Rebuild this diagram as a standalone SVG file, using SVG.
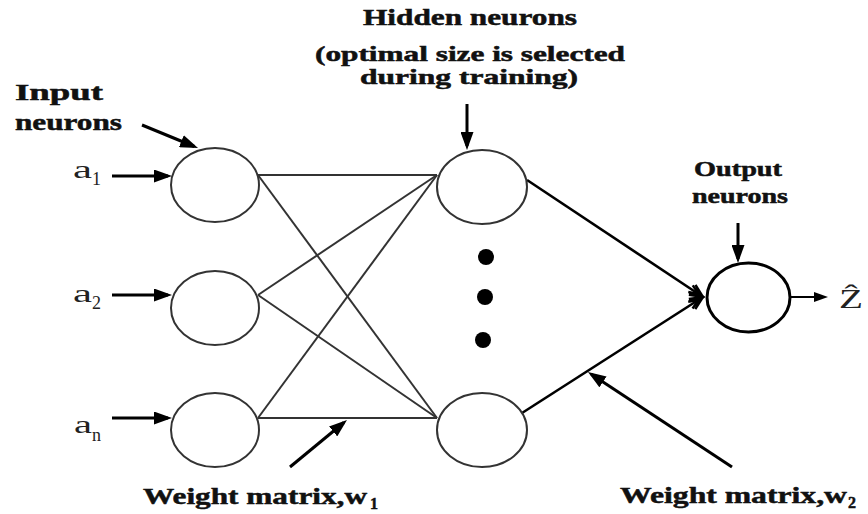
<svg xmlns="http://www.w3.org/2000/svg" width="868" height="514" viewBox="0 0 868 514">
<style>
  .lbl { font-family: "Liberation Serif", "Times New Roman", serif; font-weight: bold; fill: #111; stroke: #111; stroke-width: 0.5; }
  .var { font-family: "Liberation Serif", "Times New Roman", serif; fill: #222; }
  .neuron { fill: #fff; stroke: #333; stroke-width: 2; }
  .out { fill: #fff; stroke: #000; stroke-width: 3; }
  .w1 { stroke: #333; stroke-width: 2; fill: none; }
  .w2 { stroke: #000; stroke-width: 2.6; fill: none; marker-end: url(#open); }
  .ptr { stroke: #000; stroke-width: 3; fill: none; marker-end: url(#head); }
</style>
<defs>
  <marker id="head" viewBox="0 0 18 13" refX="14" refY="6.5" markerWidth="18" markerHeight="13" markerUnits="userSpaceOnUse" orient="auto">
    <path d="M0,0 L18,6.5 L0,13 z" fill="#000"/>
  </marker>
  <marker id="small" viewBox="0 0 14 10" refX="11" refY="5" markerWidth="14" markerHeight="10" markerUnits="userSpaceOnUse" orient="auto">
    <path d="M0,0 L14,5 L0,10 z" fill="#000"/>
  </marker>
  <marker id="open" viewBox="-2 -2 18 16" refX="14" refY="6" markerWidth="18" markerHeight="16" markerUnits="userSpaceOnUse" orient="auto">
    <path d="M1,0 L14,6 L1,12 M-1,2 L9,6 L-1,10" fill="none" stroke="#000" stroke-width="2.4"/>
  </marker>
</defs>
<rect width="868" height="514" fill="#fff"/>

<g id="connectors">
  <line class="w1" x1="258" y1="175" x2="437" y2="175"/>
  <line class="w1" x1="258" y1="175" x2="437" y2="418"/>
  <line class="w1" x1="258" y1="295" x2="437" y2="175"/>
  <line class="w1" x1="258" y1="295" x2="437" y2="418"/>
  <line class="w1" x1="258" y1="418" x2="437" y2="175"/>
  <line class="w1" x1="258" y1="418" x2="437" y2="418"/>
  <line class="w2" x1="527" y1="180" x2="703" y2="297"/>
  <line class="w2" x1="522" y1="413" x2="703" y2="297"/>
  <line class="ptr" x1="112" y1="176" x2="168" y2="176"/>
  <line class="ptr" x1="112" y1="295" x2="168" y2="295"/>
  <line class="ptr" x1="112" y1="418" x2="168" y2="418"/>
  <line class="ptr" x1="142" y1="125" x2="194.3" y2="146.5"/>
  <line class="ptr" x1="467" y1="104" x2="467" y2="146"/>
  <line class="ptr" x1="738" y1="223" x2="738" y2="259"/>
  <line class="ptr" x1="290" y1="467" x2="343.9" y2="422.5"/>
  <line class="ptr" x1="732" y1="467" x2="591.3" y2="374.2"/>
  <line x1="790" y1="297" x2="825" y2="297" stroke="#000" stroke-width="2.2" marker-end="url(#small)"/>
</g>

<g id="input1"><ellipse class="neuron" cx="215" cy="185" rx="44" ry="37"/></g>
<g id="input2"><ellipse class="neuron" cx="215" cy="308" rx="44" ry="37"/></g>
<g id="input3"><ellipse class="neuron" cx="215" cy="430" rx="44" ry="37"/></g>
<g id="hidden1"><ellipse class="neuron" cx="482" cy="187" rx="45" ry="37"/></g>
<g id="hidden-dots">
  <circle cx="486" cy="257" r="8" fill="#000"/>
  <circle cx="485" cy="297" r="8" fill="#000"/>
  <circle cx="483" cy="340" r="8" fill="#000"/>
</g>
<g id="hidden2"><ellipse class="neuron" cx="482" cy="430" rx="45" ry="37"/></g>
<g id="output"><ellipse class="out" cx="748.5" cy="297.5" rx="41.5" ry="34.5"/></g>

<g id="labels">
  <text class="lbl" x="15" y="100" font-size="24" textLength="88" lengthAdjust="spacingAndGlyphs">Input</text>
  <text class="lbl" x="15" y="130" font-size="24" textLength="107" lengthAdjust="spacingAndGlyphs">neurons</text>
  <text class="lbl" x="363" y="25" font-size="23" textLength="214" lengthAdjust="spacingAndGlyphs">Hidden neurons</text>
  <text class="lbl" x="315" y="61" font-size="21" textLength="310" lengthAdjust="spacingAndGlyphs">(optimal size is selected</text>
  <text class="lbl" x="360" y="84" font-size="21" textLength="218" lengthAdjust="spacingAndGlyphs">during training)</text>
  <text class="lbl" x="694" y="176" font-size="21" textLength="88" lengthAdjust="spacingAndGlyphs">Output</text>
  <text class="lbl" x="692" y="203" font-size="21" textLength="96" lengthAdjust="spacingAndGlyphs">neurons</text>
  <text class="lbl" x="143" y="504" font-size="24" textLength="224" lengthAdjust="spacingAndGlyphs">Weight matrix,w</text>
  <text class="lbl" x="370" y="509" font-size="16">1</text>
  <text class="lbl" x="620" y="503" font-size="24" textLength="227" lengthAdjust="spacingAndGlyphs">Weight matrix,w</text>
  <text class="lbl" x="848" y="508" font-size="16">2</text>
</g>
<g id="variables">
  <text class="var" x="73" y="178" font-size="26" textLength="19" lengthAdjust="spacingAndGlyphs">a</text>
  <text class="var" x="92" y="185" font-size="18">1</text>
  <text class="var" x="73" y="302" font-size="26" textLength="19" lengthAdjust="spacingAndGlyphs">a</text>
  <text class="var" x="92" y="309" font-size="18">2</text>
  <text class="var" x="74" y="433" font-size="26" textLength="18" lengthAdjust="spacingAndGlyphs">a</text>
  <text class="var" x="92" y="441" font-size="18">n</text>
  <text class="var" x="839" y="308" font-size="28" textLength="24" lengthAdjust="spacingAndGlyphs">Ẑ</text>
</g>
</svg>
